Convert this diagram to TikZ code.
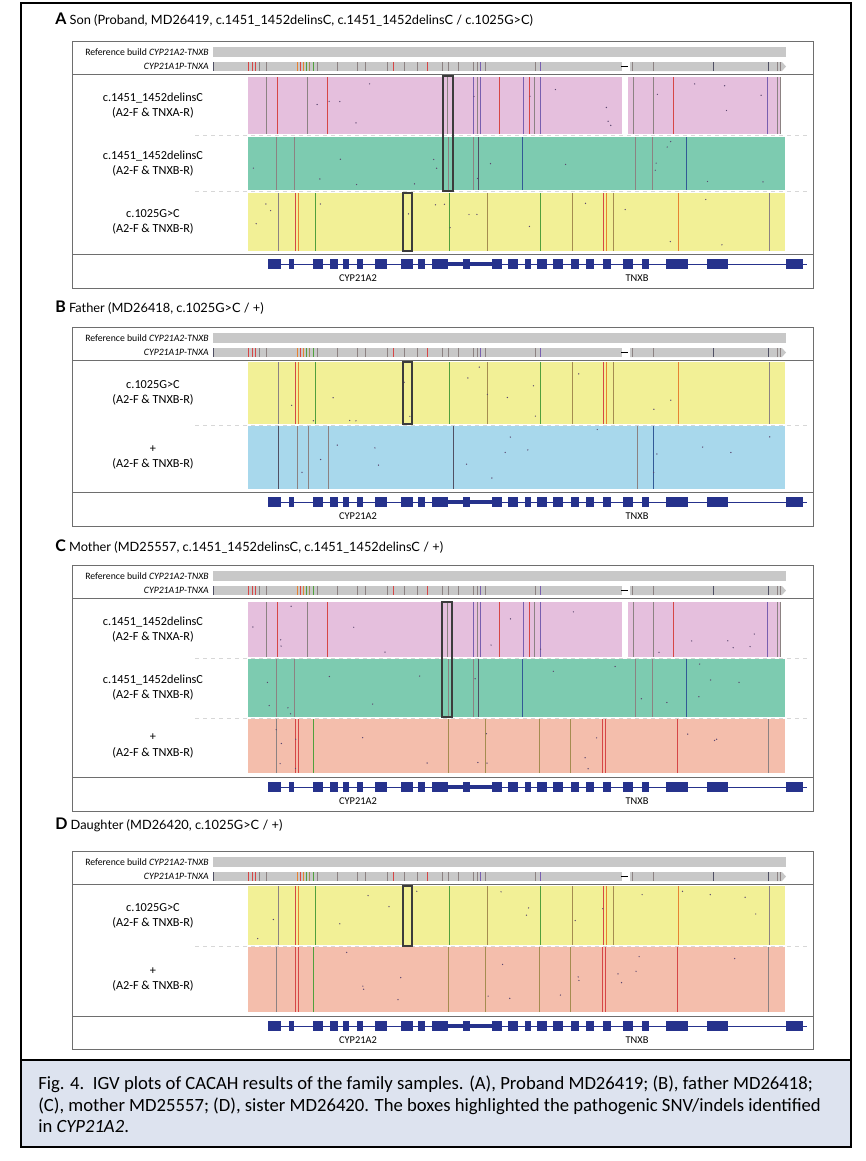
\documentclass[tikz,border=0pt]{standalone}
\usepackage{fontspec}
\setmainfont{Carlito}
\newfontfamily\titlefont{Lato}
\usetikzlibrary{positioning}

\definecolor{refgray}{RGB}{200,200,200}
\definecolor{pinkfill}{RGB}{229,191,221}
\definecolor{greenfill}{RGB}{125,203,176}
\definecolor{yellowfill}{RGB}{242,240,150}
\definecolor{bluefill}{RGB}{168,216,236}
\definecolor{salmonfill}{RGB}{244,190,172}
\definecolor{geneblue}{RGB}{38,50,140}
\definecolor{capfill}{RGB}{221,227,239}

% header rows of one panel: #1 = top of the panel box, #2 = name
\newcommand{\refrows}[2]{
  \fill[refgray] (213,#1+6) rectangle (786,#1+16);
  \fill[refgray] (213,#1+21) rectangle (622,#1+30);
  \fill[refgray] (630,#1+21) -- (782,#1+21) -- (786,#1+25.5) -- (782,#1+30) -- (630,#1+30) -- cycle;
  \draw[line width=1.2pt] (621,#1+25.5) -- (628,#1+25.5);
  \draw[vdark] (213.5,#1+21) -- (213.5,#1+30);
  \foreach \x/\c in {248/vred, 252/vred, 255/vred, 259/vgray, 266/vgray, 297/vorange, 300/vred,
      303/vorange, 306/vgreen, 309/volive, 313/vgreen, 317/vgray, 337/vgray, 357/vgray, 365/vgray,
      387/vgray, 393/vred, 404/vgray, 417/vgray, 427/vred, 442/vgray, 448/vgray, 458/vgray,
      473/vgray, 477/vgray, 480/vpurp, 485/vgray, 535/vgray, 540/vpurp, 632/vgray, 653/vgray,
      713/vdark, 768/vdark, 777/vgray, 780/vgray}
    \draw[\c] (\x,#1+21) -- (\x,#1+30);
  \node[reflabel, anchor=east] (ref#2) at (209,#1+11) {Reference build \textit{CYP21A2-TNXB}};
  \node[reflabel, anchor=east] (pse#2) at (209,#1+25.5) {\textit{CYP21A1P-TNXA}};
  \draw[panelbox] (72,#1+33) -- (813,#1+33);
}

% one read track: y1, y2, fill, variant lines (a list macro), name, label
\newcommand{\track}[6]{
  \fill[#3] (248,#1) rectangle (785,#2);
  \foreach \x/\c in #4 \draw[\c] (\x,#1) -- (\x,#2);
  \foreach \i in {1,...,16} \fill[dotc] ({252+528*rnd},{#1+3+(#2-#1-6)*rnd}) circle (0.7);
  \node[tracklabel] (#5) at (153,{(#1+#2)/2}) {#6};
}
\newcommand{\pinkgap}[2]{
  \fill[white] (621.5,#1) rectangle (628,#2);
  \fill[white] (781,#1) rectangle (786,#2);
}

% gene model: #1 = y, #2 = name
\newcommand{\genes}[2]{
  \draw[geneblue, line width=0.6pt] (268,#1) -- (807,#1);
  \fill[geneblue] (448,#1-2) rectangle (492,#1+2);
  \foreach \a/\b in {268/281, 289/294, 313/323, 330/338, 343/349, 357/363, 375/387, 401/413,
      418/425, 432/448, 463/470, 492/502, 508/518, 525/531, 537/547, 553/563, 571/579,
      586/594, 603/611, 623/633, 642/649, 666/688, 707/728, 786/803}
    \fill[geneblue] (\a,#1-5) rectangle (\b,#1+5);
  \node[genelabel] (cyp#2) at (358,#1+14) {CYP21A2};
  \node[genelabel] (tnx#2) at (637,#1+14) {TNXB};
}

\newcommand{\pinklines}{266/vgray, 277/vred, 307/vgray, 327/vred, 447/vgray, 473/vpurp, 477/vgray,
  480/vpurp, 499/vred, 523/vpurp, 529/vred, 534/vgray, 540/vpurp, 633/vgray, 653/vgray,
  673/vred, 767/vpurp, 777/vgray, 780/vgray}
\newcommand{\greenlines}{276/vgray, 294/vgray, 448/vgray, 473/vgray, 478/vdark, 522/vblue,
  635/vgray, 652/vgray, 686/vblue}
\newcommand{\yellowlines}{278/vgray, 295/vred, 298/vorange, 315/vgreen, 449/vgreen, 487/volive,
  540/vgreen, 572/volive, 603/vred, 606/vorange, 613/volive, 678/vorange, 769/vgray}
\newcommand{\bluelines}{278/vdark, 297/vgray, 308/vgray, 328/vgray, 453/vdark, 637/vgray, 653/vblue}
\newcommand{\salmonlines}{276/vgray, 295/vred, 298/vred, 313/vgreen, 448/volive, 485/volive,
  539/volive, 570/volive, 602/vred, 605/vred, 677/vred, 768/vgray}

\begin{document}
\begin{tikzpicture}[x=0.75pt, y=-0.75pt]
    \tikzset{
      vred/.style={draw={rgb,255:red,214;green,70;blue,70}, line width=0.6pt},
      vgray/.style={draw={rgb,255:red,140;green,130;blue,130}, line width=0.5pt},
      vdark/.style={draw={rgb,255:red,80;green,80;blue,100}, line width=0.7pt},
      vpurp/.style={draw={rgb,255:red,120;green,95;blue,175}, line width=0.6pt},
      vblue/.style={draw={rgb,255:red,50;green,90;blue,150}, line width=0.6pt},
      vgreen/.style={draw={rgb,255:red,80;green,160;blue,60}, line width=0.6pt},
      volive/.style={draw={rgb,255:red,165;green,140;blue,80}, line width=0.5pt},
      vorange/.style={draw={rgb,255:red,230;green,130;blue,50}, line width=0.6pt},
      dotc/.style={fill={rgb,255:red,90;green,70;blue,110}},
      panelbox/.style={draw={rgb,255:red,110;green,110;blue,110}, line width=0.6pt},
      trackgap/.style={draw={rgb,255:red,215;green,215;blue,215}, line width=0.4pt, dashed},
      hlbox/.style={draw={rgb,255:red,60;green,60;blue,60}, line width=0.8pt},
      reflabel/.style={font=\fontsize{7.3}{8}\selectfont, inner sep=0pt},
      tracklabel/.style={font=\fontsize{9.2}{11.3}\selectfont, align=center, inner sep=0pt},
      genelabel/.style={font=\fontsize{7.8}{8}\selectfont, inner sep=0pt},
      paneltitle/.style={font=\titlefont\fontsize{9.6}{11}\selectfont, anchor=west, inner sep=0pt}
    }
    \useasboundingbox (0,0) rectangle (866,1161);
    \pgfmathsetseed{4}

    % frame and caption
    \draw[line width=1.5pt] (21,3) rectangle (851,1147);
    \filldraw[fill=capfill, line width=1.5pt] (21,1060) rectangle (851,1147);
    \node[anchor=north west, align=left, inner sep=0pt, font=\fontsize{14}{15.8}\selectfont] (caption) at (38,1076)
      {Fig. 4.\ \ IGV plots of CACAH results of the family samples. (A), Proband MD26419; (B), father MD26418;\\
       (C), mother MD25557; (D), sister MD26420. The boxes highlighted the pathogenic SNV/indels identified\\
       in \textit{CYP21A2}.};

    % A
    \node[paneltitle] (titleA) at (55,20) {{\fontsize{12}{12}\selectfont\bfseries A} Son (Proband, MD26419, c.1451\_1452delinsC, c.1451\_1452delinsC / c.1025G>C)};
    \draw[panelbox] (72,41) rectangle (813,288);
    \refrows{41}{A}
    \track{77}{134}{pinkfill}{\pinklines}{trA1}{c.1451\_1452delinsC\\(A2-F \& TNXA-R)}
    \pinkgap{77}{134}
    \track{137}{190}{greenfill}{\greenlines}{trA2}{c.1451\_1452delinsC\\(A2-F \& TNXB-R)}
    \track{193}{251}{yellowfill}{\yellowlines}{trA3}{c.1025G>C\\(A2-F \& TNXB-R)}
    \draw[trackgap] (195,135.5) -- (808,135.5);
    \draw[trackgap] (195,191.5) -- (808,191.5);
    \draw[hlbox] (443,76) rectangle (453,191);
    \draw[hlbox] (403,193) rectangle (412,251);
    \draw[panelbox] (72,254) -- (813,254);
    \genes{264}{A}

    % B
    \node[paneltitle] (titleB) at (55,308) {{\fontsize{12}{12}\selectfont\bfseries B} Father (MD26418, c.1025G>C / +)};
    \draw[panelbox] (72,327) rectangle (813,526);
    \refrows{327}{B}
    \track{362}{424}{yellowfill}{\yellowlines}{trB1}{c.1025G>C\\(A2-F \& TNXB-R)}
    \track{426}{489}{bluefill}{\bluelines}{trB2}{+\\(A2-F \& TNXB-R)}
    \draw[trackgap] (195,425) -- (808,425);
    \draw[hlbox] (403,362) rectangle (412,424);
    \draw[panelbox] (72,492) -- (813,492);
    \genes{502}{B}

    % C
    \node[paneltitle] (titleC) at (55,547) {{\fontsize{12}{12}\selectfont\bfseries C} Mother (MD25557, c.1451\_1452delinsC, c.1451\_1452delinsC / +)};
    \draw[panelbox] (72,565) rectangle (813,811);
    \refrows{565}{C}
    \track{602}{657}{pinkfill}{\pinklines}{trC1}{c.1451\_1452delinsC\\(A2-F \& TNXA-R)}
    \pinkgap{602}{657}
    \track{659}{717}{greenfill}{\greenlines}{trC2}{c.1451\_1452delinsC\\(A2-F \& TNXB-R)}
    \track{719}{773}{salmonfill}{\salmonlines}{trC3}{+\\(A2-F \& TNXB-R)}
    \draw[trackgap] (195,658) -- (808,658);
    \draw[trackgap] (195,718) -- (808,718);
    \draw[hlbox] (442,602) rectangle (452,717);
    \draw[panelbox] (72,777) -- (813,777);
    \genes{787}{C}

    % D
    \node[paneltitle] (titleD) at (55,825) {{\fontsize{12}{12}\selectfont\bfseries D} Daughter (MD26420, c.1025G>C / +)};
    \draw[panelbox] (72,851) rectangle (813,1049);
    \refrows{851}{D}
    \track{886}{945}{yellowfill}{\yellowlines}{trD1}{c.1025G>C\\(A2-F \& TNXB-R)}
    \track{947}{1012}{salmonfill}{\salmonlines}{trD2}{+\\(A2-F \& TNXB-R)}
    \draw[trackgap] (195,946) -- (808,946);
    \draw[hlbox] (403,886) rectangle (412,946);
    \draw[panelbox] (72,1016) -- (813,1016);
    \genes{1026}{D}
\end{tikzpicture}
\end{document}
